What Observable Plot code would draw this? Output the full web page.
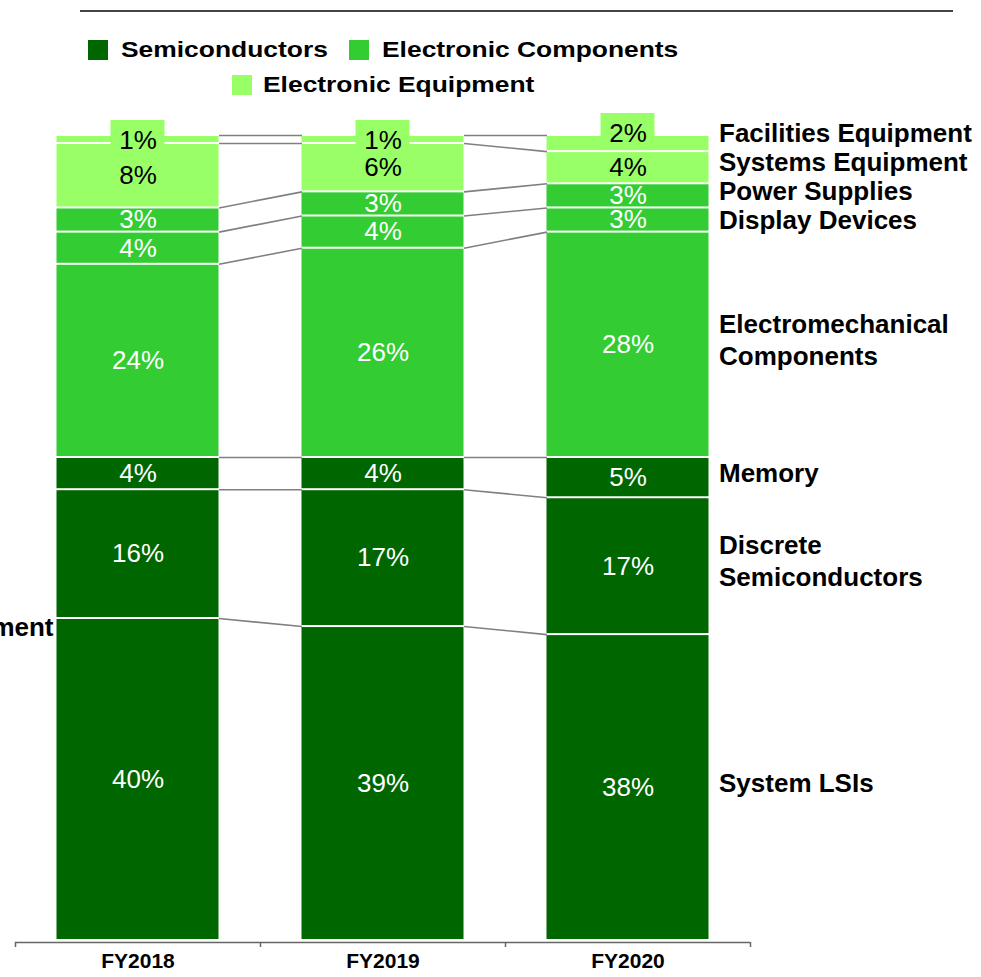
<!DOCTYPE html>
<html>
<head>
<meta charset="utf-8">
<script src="https://cdn.jsdelivr.net/npm/d3@7"></script>
<script src="https://cdn.jsdelivr.net/npm/@observablehq/plot@0.6"></script>
<style>
  html, body { margin: 0; padding: 0; overflow: hidden; background: #fff; }
  body { width: 981px; height: 977px; position: relative; font-family: "Liberation Sans", Arial, sans-serif; }
  #topline { position: absolute; left: 80px; top: 10px; width: 873px; border-top: 2px solid #444; }
  .sw { position: absolute; width: 20px; height: 20px; }
  .lt { position: absolute; font-size: 22px; line-height: 22px; font-weight: bold; color: #000;
        white-space: nowrap; transform: scaleX(1.2); transform-origin: 0 50%; }
  #chart { position: absolute; left: 0; top: 100px; }
</style>
</head>
<body>
<div id="topline"></div>
<div id="legend"></div>
<div id="chart"></div>
<script>
// ---- data ----
const years = ["FY2018", "FY2019", "FY2020"];
const segments = ["System LSIs", "Discrete Semiconductors", "Memory", "Electromechanical Components",
                  "Display Devices", "Power Supplies", "Systems Equipment", "Facilities Equipment"];
const segmentLabels = ["System LSIs", "Discrete\nSemiconductors", "Memory", "Electromechanical\nComponents",
                       "Display Devices", "Power Supplies", "Systems Equipment", "Facilities Equipment"];
const segmentGroups = ["Semiconductors", "Semiconductors", "Semiconductors",
                       "Electronic Components", "Electronic Components", "Electronic Components",
                       "Electronic Equipment", "Electronic Equipment"];
const groups = ["Semiconductors", "Electronic Components", "Electronic Equipment"];
const groupColors = ["#006600", "#33cc33", "#99ff66"];
const shareFY2018 = [40, 16, 4, 24, 4, 3, 8, 1];
const shareFY2019 = [39, 17, 4, 26, 4, 3, 6, 1];
const shareFY2020 = [38, 17, 5, 28, 3, 3, 4, 2];
const strayLabels = ["ment"];

// ---- legend (HTML, above the SVG) ----
const legendItems = [
  {g: 0, sx: 88, sy: 40, tx: 121, ty: 39},
  {g: 1, sx: 349, sy: 40, tx: 382, ty: 39},
  {g: 2, sx: 232, sy: 75, tx: 263, ty: 74}
];
const legend = document.getElementById("legend");
for (const it of legendItems) {
  const s = document.createElement("div");
  s.className = "sw";
  s.style.left = it.sx + "px"; s.style.top = it.sy + "px"; s.style.background = groupColors[it.g];
  legend.appendChild(s);
  const t = document.createElement("div");
  t.className = "lt";
  t.style.left = it.tx + "px"; t.style.top = it.ty + "px";
  t.textContent = groups[it.g];
  legend.appendChild(t);
}

// ---- build table ----
const series = [shareFY2018, shareFY2019, shareFY2020];
const HW = 81 / 245; // bar half width in band units
const rows = [];
series.forEach((vals, i) => {
  let acc = 0;
  vals.forEach((v, k) => {
    rows.push({xi: i, year: years[i], k, segment: segments[k], label: segmentLabels[k],
               group: segmentGroups[k], value: v, y1: acc, y2: acc + v, mid: acc + v / 2});
    acc += v;
  });
});
const links = [];
for (let i = 0; i < years.length - 1; i++) {
  for (let k = 0; k < segments.length; k++) {
    const a = rows.find(r => r.xi === i && r.k === k);
    const b = rows.find(r => r.xi === i + 1 && r.k === k);
    links.push({x1: i + HW, x2: i + 1 - HW, y1: a.y2, y2: b.y2});
  }
}

// right-hand labels: anchored at last bar's segment midpoints, spread apart to avoid overlap
function spread(anchors, gap) {
  let clusters = anchors.map((a, i) => ({idx: [i], mean: a}));
  let changed = true;
  while (changed) {
    changed = false;
    for (let j = 0; j < clusters.length - 1; j++) {
      const A = clusters[j], B = clusters[j + 1];
      const aLow = A.mean - (A.idx.length - 1) * gap / 2;
      const bHigh = B.mean + (B.idx.length - 1) * gap / 2;
      if (aLow - bHigh < gap) {
        const idx = A.idx.concat(B.idx);
        clusters.splice(j, 2, {idx, mean: d3.mean(idx, i => anchors[i])});
        changed = true;
        break;
      }
    }
  }
  const out = new Array(anchors.length);
  for (const c of clusters) {
    const n = c.idx.length;
    c.idx.forEach((i, r) => { out[i] = c.mean + ((n - 1) / 2 - r) * gap; });
  }
  return out;
}
const lastYear = rows.filter(d => d.xi === years.length - 1).sort((a, b) => b.mid - a.mid);
const spreadPos = spread(lastYear.map(d => d.mid), 3.6);
const rightLabels = lastYear.map((d, i) => ({...d, ly: spreadPos[i]}));

const last = segments.length - 1;
const topRows = rows.filter(d => d.k === last);
const topSmall = topRows.filter(d => d.value < 2);
const topBig = topRows.filter(d => d.value >= 2);
const inner = rows.filter(d => d.k !== last);
const font = "'Liberation Sans', Arial, sans-serif";

const chart = Plot.plot({
  width: 981,
  height: 877,
  marginTop: 35,
  marginBottom: 35,
  marginLeft: 15,
  marginRight: 231,
  x: {domain: [-0.5, 2.5], range: [15, 750]},
  y: {domain: [0, 100], range: [840, 35], axis: null},
  color: {domain: groups, range: groupColors},
  style: {fontFamily: font, background: "white", overflow: "visible"},
  marks: [
    Plot.rect(rows, {x1: d => d.xi - HW, x2: d => d.xi + HW, y1: "y1", y2: "y2", fill: "group",
                     insetTop: 1, insetBottom: 1}),
    Plot.link(links, {x1: "x1", x2: "x2", y1: "y1", y2: "y2", stroke: "#808080", strokeWidth: 1.6}),
    Plot.rect(topSmall, {x1: d => d.xi - HW, x2: d => d.xi + HW, y1: "y1", y2: "y2", fill: "group",
                         insetLeft: 54, insetRight: 54, insetTop: -15, insetBottom: -7}),
    Plot.rect(topBig, {x1: d => d.xi - HW, x2: d => d.xi + HW, y1: "y1", y2: "y2", fill: "group",
                       insetLeft: 54, insetRight: 54, insetTop: -22, insetBottom: 1}),
    Plot.text(inner.filter(d => d.group !== "Electronic Equipment"),
      {x: "xi", y: "mid", text: d => `${d.value}%`, fill: "white", fontSize: 26}),
    Plot.text(inner.filter(d => d.group === "Electronic Equipment"),
      {x: "xi", y: "mid", text: d => `${d.value}%`, fill: "black", fontSize: 26}),
    Plot.text(topSmall, {x: "xi", y: "mid", dy: 1, text: d => `${d.value}%`, fill: "black", fontSize: 26}),
    Plot.text(topBig, {x: "xi", y: "mid", dy: -10, text: d => `${d.value}%`, fill: "black", fontSize: 26}),
    Plot.text(rightLabels,
      {x: d => d.xi + HW, y: "ly", dx: 10, dy: -6, text: "label", textAnchor: "start",
       fontSize: 26, fontWeight: "bold", lineHeight: 1.22, fill: "black"}),
    Plot.text(strayLabels, {x: -0.5, y: shareFY2018[0], dx: 38, dy: 9, text: d => d, textAnchor: "end",
       fontSize: 26, fontWeight: "bold", fill: "black"}),
    Plot.ruleY([0], {x1: -0.5, x2: 2.5, dy: 2, stroke: "#666", strokeWidth: 1.5}),
    Plot.axisX({ticks: [-0.5, 0.5, 1.5, 2.5], tickSize: 5, tickFormat: () => "", stroke: "#666",
                strokeWidth: 1.5, strokeOpacity: 1}),
    Plot.text(years, {x: (d, i) => i, frameAnchor: "bottom", dy: 25, text: d => d,
       fontSize: 21, fontWeight: "bold", fill: "black"})
  ]
});
document.getElementById("chart").appendChild(chart);
</script>
</body>
</html>
